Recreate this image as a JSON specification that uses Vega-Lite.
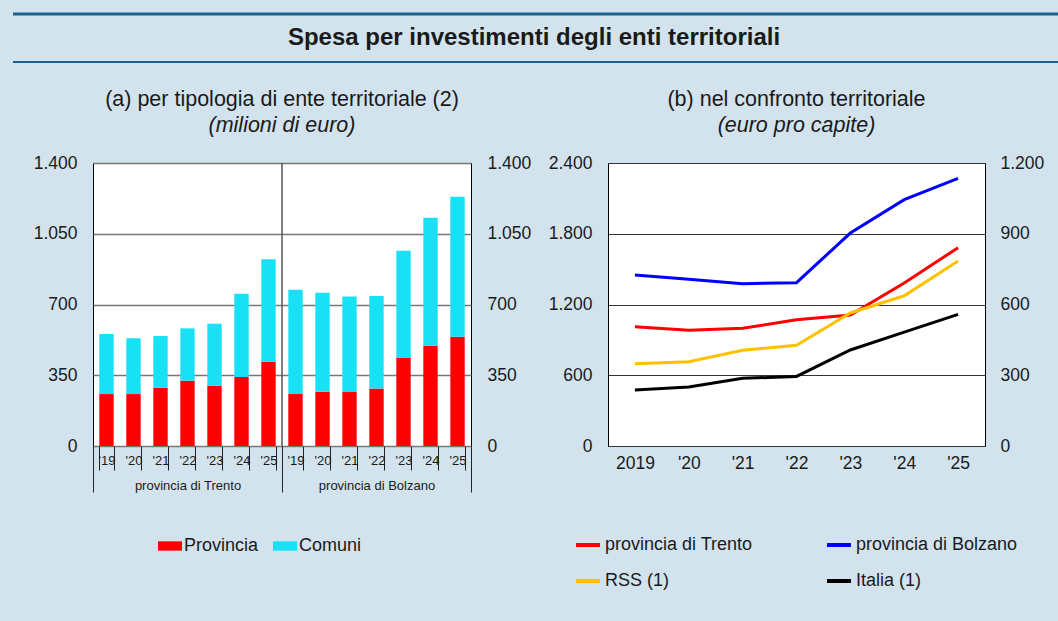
{
  "$schema": "https://vega.github.io/schema/vega-lite/v6.json",
  "background": "#d2e3ee",
  "padding": {"left": 0, "top": 12, "right": 0, "bottom": 40},
  "config": {
    "font": "Liberation Sans",
    "locale": {"number": {"decimal": ",", "thousands": ".", "grouping": [3], "currency": ["€", ""]}},
    "axis": {"labelColor": "#1a1a1a", "labelFontSize": 17.5, "titleColor": "#1a1a1a"},
    "legend": {"labelColor": "#1a1a1a", "labelFontSize": 18, "labelLimit": 400},
    "title": {"color": "#1a1a1a", "subtitleColor": "#1a1a1a"}
  },
  "spacing": 25,
  "vconcat": [
    {
      "width": 966,
      "height": 48,
      "data": {"values": [{}]},
      "view": {"stroke": null},
      "layer": [
        {"mark": {"type": "rule", "color": "#1c6189", "strokeWidth": 3, "clip": false}, "encoding": {"x": {"value": -80}, "x2": {"value": 966}, "y": {"datum": 1, "type": "quantitative", "scale": {"domain": [0, 1]}, "axis": null}}},
        {"mark": {"type": "rule", "color": "#1c6189", "strokeWidth": 2, "clip": false}, "encoding": {"x": {"value": -80}, "x2": {"value": 966}, "y": {"datum": 0, "type": "quantitative", "axis": null}}},
        {"mark": {"type": "text", "fontSize": 24, "fontWeight": "bold", "color": "#1a1a1a", "dx": -42}, "encoding": {"text": {"value": "Spesa per investimenti degli enti territoriali"}}}
      ]
    },
    {
      "spacing": 0,
      "resolve": {"scale": {"color": "independent"}, "legend": {"color": "independent"}},
      "hconcat": [
        {
          "width": 378,
          "height": 283,
          "title": {"text": "(a) per tipologia di ente territoriale (2)", "subtitle": "(milioni di euro)", "fontSize": 21.5, "fontWeight": "normal", "subtitleFontSize": 21.5, "subtitleFontStyle": "italic", "subtitlePadding": 4.5, "offset": 18},
          "view": {"fill": "white", "stroke": "black", "strokeWidth": 1},
          "layer": [
            {
              "data": {"values": [
                {"provincia": "provincia di Trento", "chiave": "Trento '19", "componente": "Provincia", "valore": 257},
                {"provincia": "provincia di Trento", "chiave": "Trento '19", "componente": "Comuni", "valore": 297},
                {"provincia": "provincia di Trento", "chiave": "Trento '20", "componente": "Provincia", "valore": 257},
                {"provincia": "provincia di Trento", "chiave": "Trento '20", "componente": "Comuni", "valore": 276},
                {"provincia": "provincia di Trento", "chiave": "Trento '21", "componente": "Provincia", "valore": 288},
                {"provincia": "provincia di Trento", "chiave": "Trento '21", "componente": "Comuni", "valore": 256},
                {"provincia": "provincia di Trento", "chiave": "Trento '22", "componente": "Provincia", "valore": 323},
                {"provincia": "provincia di Trento", "chiave": "Trento '22", "componente": "Comuni", "valore": 259},
                {"provincia": "provincia di Trento", "chiave": "Trento '23", "componente": "Provincia", "valore": 298},
                {"provincia": "provincia di Trento", "chiave": "Trento '23", "componente": "Comuni", "valore": 307},
                {"provincia": "provincia di Trento", "chiave": "Trento '24", "componente": "Provincia", "valore": 341},
                {"provincia": "provincia di Trento", "chiave": "Trento '24", "componente": "Comuni", "valore": 412},
                {"provincia": "provincia di Trento", "chiave": "Trento '25", "componente": "Provincia", "valore": 417},
                {"provincia": "provincia di Trento", "chiave": "Trento '25", "componente": "Comuni", "valore": 507},
                {"provincia": "provincia di Bolzano", "chiave": "Bolzano '19", "componente": "Provincia", "valore": 257},
                {"provincia": "provincia di Bolzano", "chiave": "Bolzano '19", "componente": "Comuni", "valore": 516},
                {"provincia": "provincia di Bolzano", "chiave": "Bolzano '20", "componente": "Provincia", "valore": 269},
                {"provincia": "provincia di Bolzano", "chiave": "Bolzano '20", "componente": "Comuni", "valore": 489},
                {"provincia": "provincia di Bolzano", "chiave": "Bolzano '21", "componente": "Provincia", "valore": 267},
                {"provincia": "provincia di Bolzano", "chiave": "Bolzano '21", "componente": "Comuni", "valore": 473},
                {"provincia": "provincia di Bolzano", "chiave": "Bolzano '22", "componente": "Provincia", "valore": 284},
                {"provincia": "provincia di Bolzano", "chiave": "Bolzano '22", "componente": "Comuni", "valore": 458},
                {"provincia": "provincia di Bolzano", "chiave": "Bolzano '23", "componente": "Provincia", "valore": 435},
                {"provincia": "provincia di Bolzano", "chiave": "Bolzano '23", "componente": "Comuni", "valore": 531},
                {"provincia": "provincia di Bolzano", "chiave": "Bolzano '24", "componente": "Provincia", "valore": 496},
                {"provincia": "provincia di Bolzano", "chiave": "Bolzano '24", "componente": "Comuni", "valore": 633},
                {"provincia": "provincia di Bolzano", "chiave": "Bolzano '25", "componente": "Provincia", "valore": 541},
                {"provincia": "provincia di Bolzano", "chiave": "Bolzano '25", "componente": "Comuni", "valore": 692}
              ]},
              "mark": {"type": "bar"},
              "encoding": {
                "x": {"field": "chiave", "type": "nominal", "sort": null, "scale": {"type": "band", "paddingInner": 0.467, "paddingOuter": 0.233}, "axis": {"orient": "bottom", "title": null, "labelExpr": "split(datum.label, ' ')[1]", "labelFontSize": 13, "labelPadding": -16, "tickBand": "extent", "tickSize": 24, "tickColor": "#222", "domain": false, "grid": false, "labelAngle": 0}},
                "y": {"field": "valore", "type": "quantitative", "stack": "zero", "scale": {"domain": [0, 1400]}, "axis": {"orient": "left", "title": null, "values": [0, 350, 700, 1050, 1400], "format": ",d", "grid": true, "gridColor": "#777", "gridWidth": 1.5, "ticks": false, "domain": false, "labelPadding": 16, "minExtent": 92}},
                "color": {"field": "componente", "type": "nominal", "scale": {"domain": ["Provincia", "Comuni"], "range": ["#ff0000", "#19e1f5"]}, "legend": {"title": null, "orient": "none", "legendX": 65, "legendY": 371, "direction": "horizontal", "symbolType": "M-1,-0.39H1V0.39H-1Z", "symbolSize": 576, "symbolStrokeWidth": 0, "labelOffset": 2, "columnPadding": 14}},
                "order": {"field": "componente", "sort": "descending"}
              }
            },
            {
              "data": {"values": [{"provincia": "provincia di Bolzano"}]},
              "mark": {"type": "rule", "color": "#555555", "strokeWidth": 1.5},
              "encoding": {
                "x": {"field": "provincia", "type": "nominal", "bandPosition": 0, "scale": {"type": "band", "domain": ["provincia di Trento", "provincia di Bolzano"], "paddingInner": 0, "paddingOuter": 0}, "axis": {"orient": "bottom", "title": null, "labelFontSize": 13, "labelPadding": -13, "tickBand": "extent", "tickSize": 46, "tickColor": "#222", "domain": false, "grid": false, "labelAngle": 0}},
                "y": {"datum": 0, "type": "quantitative", "scale": {"domain": [0, 1400]}, "axis": {"orient": "right", "title": null, "values": [0, 350, 700, 1050, 1400], "format": ",d", "grid": false, "ticks": false, "domain": false, "labelPadding": 16, "minExtent": 66}},
                "y2": {"datum": 1400}
              }
            }
          ],
          "resolve": {"scale": {"x": "independent", "y": "independent"}}
        },
        {
          "width": 377,
          "height": 283,
          "title": {"text": "(b) nel confronto territoriale", "subtitle": "(euro pro capite)", "fontSize": 21.5, "fontWeight": "normal", "subtitleFontSize": 21.5, "subtitleFontStyle": "italic", "subtitlePadding": 4.5, "offset": 18},
          "view": {"fill": "white", "stroke": "black", "strokeWidth": 1},
          "data": {"values": [
            {"serie": "provincia di Trento", "anno": "2019", "valore": 1012},
            {"serie": "provincia di Trento", "anno": "'20", "valore": 981},
            {"serie": "provincia di Trento", "anno": "'21", "valore": 998},
            {"serie": "provincia di Trento", "anno": "'22", "valore": 1071},
            {"serie": "provincia di Trento", "anno": "'23", "valore": 1111},
            {"serie": "provincia di Trento", "anno": "'24", "valore": 1382},
            {"serie": "provincia di Trento", "anno": "'25", "valore": 1682},
            {"serie": "provincia di Bolzano", "anno": "2019", "valore": 1450},
            {"serie": "provincia di Bolzano", "anno": "'20", "valore": 1414},
            {"serie": "provincia di Bolzano", "anno": "'21", "valore": 1376},
            {"serie": "provincia di Bolzano", "anno": "'22", "valore": 1385},
            {"serie": "provincia di Bolzano", "anno": "'23", "valore": 1806},
            {"serie": "provincia di Bolzano", "anno": "'24", "valore": 2089},
            {"serie": "provincia di Bolzano", "anno": "'25", "valore": 2270},
            {"serie": "RSS (1)", "anno": "2019", "valore": 349},
            {"serie": "RSS (1)", "anno": "'20", "valore": 357},
            {"serie": "RSS (1)", "anno": "'21", "valore": 406},
            {"serie": "RSS (1)", "anno": "'22", "valore": 427},
            {"serie": "RSS (1)", "anno": "'23", "valore": 564},
            {"serie": "RSS (1)", "anno": "'24", "valore": 637},
            {"serie": "RSS (1)", "anno": "'25", "valore": 784},
            {"serie": "Italia (1)", "anno": "2019", "valore": 237},
            {"serie": "Italia (1)", "anno": "'20", "valore": 250},
            {"serie": "Italia (1)", "anno": "'21", "valore": 287},
            {"serie": "Italia (1)", "anno": "'22", "valore": 295},
            {"serie": "Italia (1)", "anno": "'23", "valore": 407},
            {"serie": "Italia (1)", "anno": "'24", "valore": 483},
            {"serie": "Italia (1)", "anno": "'25", "valore": 558}
          ]},
          "layer": [
            {
              "transform": [{"filter": {"field": "serie", "oneOf": ["provincia di Trento", "provincia di Bolzano"]}}],
              "mark": {"type": "line", "strokeWidth": 3},
              "encoding": {
                "x": {"field": "anno", "type": "ordinal", "scale": {"type": "point", "padding": 0.5, "domain": ["2019", "'20", "'21", "'22", "'23", "'24", "'25"]}, "axis": {"title": null, "labelAngle": 0, "labelPadding": 8, "ticks": false, "domain": false, "grid": false}},
                "y": {"field": "valore", "type": "quantitative", "scale": {"domain": [0, 2400]}, "axis": {"orient": "left", "title": null, "values": [0, 600, 1200, 1800, 2400], "format": ",d", "grid": true, "gridColor": "#333333", "gridWidth": 1, "ticks": false, "domain": false, "labelPadding": 16, "minExtent": 69}},
                "color": {"field": "serie", "type": "nominal", "scale": {"domain": ["provincia di Trento", "RSS (1)", "provincia di Bolzano", "Italia (1)"], "range": ["#ff0000", "#ffc000", "#0000ff", "#000000"]}, "legend": {"title": null, "orient": "none", "legendX": -34, "legendY": 368, "columns": 2, "symbolType": "stroke", "symbolSize": 576, "symbolStrokeWidth": 4, "labelOffset": 3, "columnPadding": 66, "rowPadding": 13}}
              }
            },
            {
              "transform": [{"filter": {"field": "serie", "oneOf": ["RSS (1)", "Italia (1)"]}}],
              "mark": {"type": "line", "strokeWidth": 3},
              "encoding": {
                "x": {"field": "anno", "type": "ordinal"},
                "y": {"field": "valore", "type": "quantitative", "scale": {"domain": [0, 1200]}, "axis": {"orient": "right", "title": null, "values": [0, 300, 600, 900, 1200], "format": ",d", "grid": false, "ticks": false, "domain": false, "labelPadding": 15}},
                "color": {"field": "serie", "type": "nominal"}
              }
            }
          ],
          "resolve": {"scale": {"y": "independent"}}
        }
      ]
    }
  ]
}
